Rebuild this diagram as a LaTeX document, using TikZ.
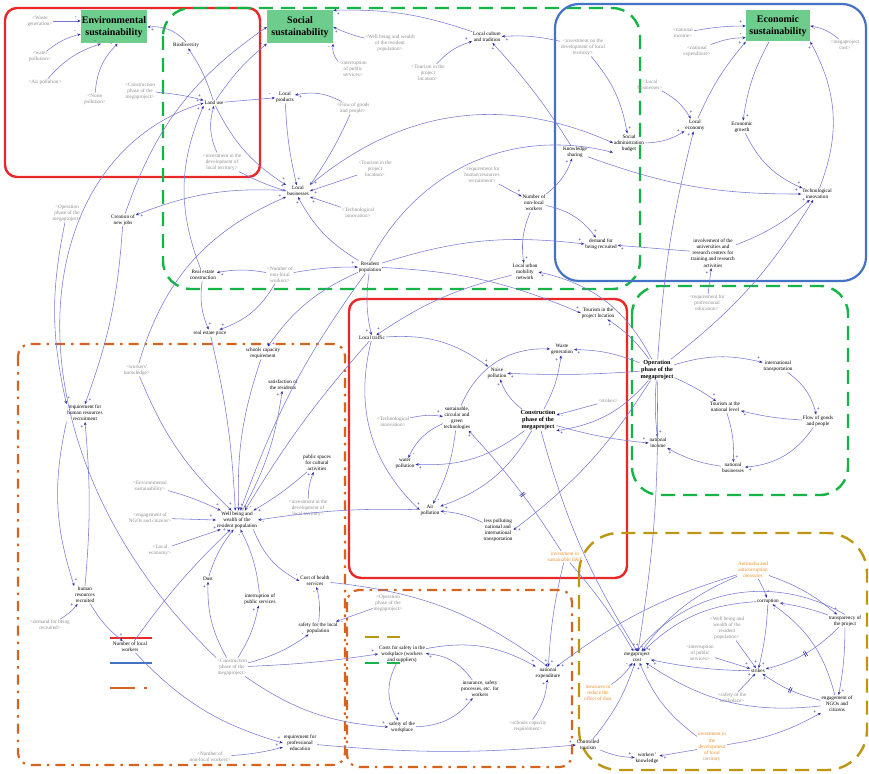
\documentclass[tikz,border=0pt]{standalone}
\usepackage{fontspec}
\setmainfont{Liberation Serif}
\usetikzlibrary{arrows.meta,decorations.markings}

\definecolor{linkblue}{RGB}{120,120,212}
\definecolor{headblue}{RGB}{40,40,165}
\definecolor{shadowgray}{RGB}{140,140,140}
\definecolor{orangetext}{RGB}{240,140,40}
\definecolor{envred}{RGB}{235,40,40}
\definecolor{socgreen}{RGB}{20,180,70}
\definecolor{ecoblue}{RGB}{68,114,196}
\definecolor{ordash}{RGB}{214,100,30}
\definecolor{golddash}{RGB}{190,150,20}
\definecolor{titlegreen}{RGB}{110,205,140}

\newcommand{\cldtext}{\fontsize{5.2}{6.1}\selectfont}
\newcommand{\cldkey}{\fontsize{6.2}{6.8}\selectfont\bfseries}
\newcommand{\cldtitle}{\fontsize{10}{11.5}\selectfont\bfseries}
\newcommand{\cldsignfont}{\fontsize{5}{5}\selectfont\bfseries}

\tikzset{
  signside/.initial=3.5pt,
  other side/.style={signside=-3.5pt},
  v/.style={font=\cldtext, align=center, inner sep=0.8pt, text=black},
  sh/.style={v, text=shadowgray},
  ov/.style={v, text=orangetext},
  key/.style={v, font=\cldkey},
  title/.style={fill=titlegreen, font=\cldtitle, align=center, inner sep=1pt,
                minimum width=66pt, minimum height=33pt},
  polsign/.style={font=\cldsignfont, text=headblue, inner sep=0pt},
  % causal link with its polarity sign beside the arrow head
  lk/.style={draw=linkblue, line width=0.55pt,
             -{Stealth[length=3.3pt,width=2.6pt,color=headblue]},
             postaction={decorate,decoration={markings,
               mark=at position 1 with {\node[polsign] at
                 (-5pt,\pgfkeysvalueof{/tikz/signside}) {#1};}}}},
  lk/.default={+},
  delay/.style={postaction={decorate,decoration={markings,
      mark=at position #1 with {\draw[headblue,line width=0.6pt,-]
        (-0.9pt,-3pt)--(-0.9pt,3pt) (0.9pt,-3pt)--(0.9pt,3pt);}}}},
  envbox/.style={draw=envred, line width=2.4pt, rounded corners=12pt},
  socbox/.style={draw=socgreen, line width=2.4pt, rounded corners=28pt,
                 dash pattern=on 14pt off 8pt},
  ecobox/.style={draw=ecoblue, line width=2.2pt, rounded corners=24pt},
  orbox/.style={draw=ordash, line width=2.2pt, rounded corners=12pt,
                dash pattern=on 10pt off 6pt on 2.5pt off 6pt},
  goldbox/.style={draw=golddash, line width=2.4pt, rounded corners=40pt,
                  dash pattern=on 14pt off 8pt},
}

\begin{document}
\begin{tikzpicture}[x=1pt,y=-1pt]
\useasboundingbox (0,0) rectangle (869,773);

% ---------- sub-system frames ----------
\draw[envbox]  (5,8) rectangle (260,177);
\draw[socbox]  (163,8) rectangle (640,289);
\draw[ecobox]  (555,4) rectangle (866,281);
\draw[envbox]  (349,299) rectangle (627,578);
\draw[socbox]  (632,286) rectangle (848,495);
\draw[orbox]   (18,344) rectangle (345,765);
\draw[orbox]   (347,590) rectangle (572,767);
\draw[goldbox] (579,533) rectangle (867,770);

% ---------- frame key ----------
\draw[draw=envred, line width=2.4pt] (110,638) -- (152,638);
\draw[draw=ecoblue, line width=2.4pt] (110,663) -- (152,663);
\draw[draw=ordash, line width=2.2pt, dash pattern=on 25pt off 9pt on 3pt off 20pt] (110,688) -- (150,688);
\draw[draw=golddash, line width=2.4pt, dash pattern=on 14pt off 8pt] (365,637) -- (400,637);
\draw[draw=socgreen, line width=2.4pt, dash pattern=on 14pt off 8pt] (365,663) -- (400,663);

% ---------- titles ----------
\node[title] (env) at (114,27) {Environmental\\sustainability};
\node[title] (soc) at (300,27) {Social\\sustainability};
\node[title, minimum width=64pt, minimum height=31pt] (eco) at (778,26) {Economic\\sustainability};

% ---------- environmental variables ----------
\node[sh] (wasteS)  at (40,21)  {<Waste\\generation>};
\node[sh] (waterS)  at (40,57)  {<water\\pollution>};
\node[sh] (airS)    at (45,82)  {<Air pollution>};
\node[sh] (noiseS)  at (95,99)  {<Noise\\pollution>};
\node[v]  (biod)    at (186,45) {Biodiversity};
\node[sh] (constrS1) at (140,91) {<Construction\\phase of the\\megaproject>};
\node[v]  (landuse) at (214,103) {Land use};
\node[sh] (investS1) at (222,162) {<investment in the\\development of\\local territory>};
\node[v]  (jobs)    at (123,220) {Creation of\\new jobs};
\node[sh] (operS1)  at (67,213) {<Operation\\phase of the\\megaproject>};

% ---------- social variables ----------
\node[v]  (localprod) at (285,97) {Local\\products};
\node[sh] (wellS1)  at (390,43) {<Well being and wealth\\of the resident\\population>};
\node[sh] (interS1) at (353,69) {<interruption\\of public\\services>};
\node[v]  (culture) at (487,37) {Local culture\\and tradition};
\node[sh] (tourS1)  at (428,73) {<Tourism in the\\project\\location>};
\node[sh] (flowS)   at (353,108) {<Flow of goods\\and people>};
\node[v]  (localbus) at (298,191) {Local\\businesses};
\node[sh] (tourS2)  at (375,169) {<Tourism in the\\project\\location>};
\node[sh] (techS1)  at (358,213) {<Technological\\innovation>};
\node[sh] (reqhrS)  at (482,175) {<requirement for\\human resources\\recruitment>};
\node[v]  (nonlocal) at (534,203) {Number of\\non-local\\workers};
\node[v]  (knowledge) at (575,152) {Knowledge\\sharing};
\node[v]  (resident) at (370,267) {Resident\\population};
\node[v]  (realestate) at (203,275) {Real estate\\construction};
\node[sh] (nonlocalS1) at (280,275) {<Number of\\non-local\\workers>};
\node[v]  (mobility) at (525,272) {Local urban\\mobility\\network};
\node[v]  (demand)  at (601,244) {demand for\\being recruited};

% ---------- economic variables ----------
\node[sh] (investS2) at (583,47) {<investment on the\\development of local\\territory>};
\node[sh] (incomeS) at (683,33) {<national\\income>};
\node[sh] (expendS) at (697,51) {<national\\expenditure>};
\node[sh] (costS)   at (845,45) {<megaproject\\cost>};
\node[sh] (localbusS) at (650,85) {<Local\\businesses>};
\node[v]  (localeco) at (695,125) {Local\\economy};
\node[v]  (growth)  at (742,127) {Economic\\growth};
\node[v]  (socadmin) at (629,143) {Social\\administration\\budget};
\node[v]  (techinnov) at (817,194) {Technological\\innovation};
\node[v]  (involve) at (713,253) {involvement of the\\universities and\\research centers for\\training and research\\activities};

% ---------- construction phase ----------
\node[v]  (tourproj) at (598,313) {Tourism in the\\project location};
\node[v]  (traffic) at (372,338) {Local traffic};
\node[v]  (waste)   at (562,349) {Waste\\generation};
\node[v]  (noise)   at (497,373) {Noise\\pollution};
\node[sh] (strikesS) at (608,401) {<strikes>};
\node[v]  (susttech) at (457,418) {sustainable,\\circular and\\green\\technologies};
\node[sh] (techS2)  at (393,422) {<Technological\\innovation>};
\node[key] (constr) at (538,420) {Construction\\phase of the\\megaproject};
\node[v]  (water)   at (405,464) {water\\pollution};
\node[v]  (air)     at (430,510) {Air\\pollution};
\node[v]  (lesspol) at (498,530) {less polluting\\national and\\international\\transportation};
\node[ov] (investeat) at (565,557) {investment in\\sustainable E\&T};

% ---------- operation phase ----------
\node[sh] (reqprofS) at (707,303) {<requirement for\\professional\\education>};
\node[key] (oper)   at (657,370) {Operation\\phase of the\\megaproject};
\node[v]  (intl)    at (778,366) {international\\transportation};
\node[v]  (tournat) at (725,407) {Tourism at the\\national level};
\node[v]  (flow)    at (818,421) {Flow of goods\\and people};
\node[v]  (income)  at (658,443) {national\\income};
\node[v]  (natbus)  at (733,468) {national\\businesses};

% ---------- residents and workers ----------
\node[v]  (realprice) at (210,333) {real estate price};
\node[v]  (schools) at (263,353) {schools capacity\\requirement};
\node[v]  (satisf)  at (283,385) {satisfaction of\\the residents};
\node[sh] (workknowS) at (137,370) {<workers'\\knowledge>};
\node[v]  (reqhr)   at (85,413) {requirement for\\human resources\\recruitment};
\node[v]  (public)  at (317,463) {public spaces\\for cultural\\activities};
\node[sh] (envS)    at (150,486) {<Environmental\\sustainability>};
\node[sh] (investS3) at (308,508) {<investment in the\\development of\\local territory>};
\node[sh] (ngoS)    at (150,518) {<engagement of\\NGOs and citizens>};
\node[v]  (wellbeing) at (237,520) {Well being and\\wealth of the\\resident population};
\node[sh] (localecoS) at (160,550) {<Local\\economy>};
\node[v]  (hrrec)   at (85,595) {human\\resources\\recruited};
\node[sh] (demandS) at (50,625) {<demand for being\\recruited>};
\node[v]  (dust)    at (208,579) {Dust};
\node[v]  (interrupt) at (260,599) {interruption of\\public services};
\node[v]  (health)  at (315,581) {Cost of health\\services};
\node[v]  (safelocal) at (318,628) {safety for the local\\population};
\node[v]  (nlw)     at (130,647) {Number of local\\workers};
\node[sh] (constrS2) at (232,667) {<Construction\\phase of the\\megaproject>};
\node[v]  (reqprof) at (300,743) {requirement for\\professional\\education};
\node[sh] (nonlocalS2) at (210,757) {<Number of\\non-local workers>};

% ---------- workplace safety ----------
\node[sh] (operS2)  at (388,603) {<Operation\\phase of the\\megaproject>};
\node[v]  (costsafe) at (402,654) {Costs for safety in the\\workplace (workers\\and suppliers)};
\node[v]  (insur)   at (480,689) {insurance, safety\\processes, etc. for\\workers};
\node[v]  (safework) at (402,727) {safety of the\\workplace};
\node[v]  (natexp)  at (548,673) {national\\expenditure};
\node[sh] (schoolsS) at (528,726) {<schools capacity\\requirement>};
\node[v]  (controlled) at (588,745) {Controlled\\tourism};

% ---------- governance ----------
\node[ov] (antimafia) at (753,570) {Antimafia and\\anticorruption\\measures};
\node[v]  (corrupt) at (768,601) {corruption};
\node[v]  (transp)  at (845,621) {transparency of\\the project};
\node[sh] (wellS2)  at (727,628) {<Well being and\\wealth of the\\resident\\population>};
\node[v]  (megacost) at (637,657) {megaproject\\cost};
\node[sh] (interS2) at (700,653) {<interruption\\of public\\services>};
\node[v]  (strikes) at (758,671) {strikes};
\node[sh] (safeworkS) at (732,698) {<safety of the\\workplace>};
\node[ov] (dustmeas) at (598,693) {measures to\\reduce the\\effect of dust};
\node[v]  (engage)  at (837,704) {engagement of\\NGOs and\\citizens};
\node[ov] (investloc) at (712,747) {investment in\\the\\development\\of local\\territory};
\node[v]  (workknow) at (647,758) {workers'\\knowledge};

% ================= causal links =================
% environmental
\draw[lk=-] (wasteS) -- (env.west |- wasteS);
\draw[lk=-] (waterS) to[bend left=12] (env.192);
\draw[lk=-] (airS) to[bend left=15] (env.232);
\draw[lk=-] (noiseS) to[bend left=20] (env.282);
\draw[lk] (biod.north) to[bend right=25] (env.east);
\draw[lk=-] (landuse) to[bend right=8] (biod);
\draw[lk] (constrS1) to[bend left=5] (landuse);
\draw[lk] (investS1) to[bend left=20] (landuse.south);
\draw[lk=-] (landuse) -- (localprod);
\draw[lk] (landuse) to[bend left=8] (soc.south west);
\draw[lk] (landuse) to[bend right=15] (localbus.north west);
\draw[lk] (investS1) to[bend right=5] (localbus.west);
\draw[lk] (jobs) to[bend left=18] (soc.west);
\draw[lk] (realestate) to[bend left=22] (landuse.south west);
\draw[lk] (localbus) to[bend right=12] (jobs);
\draw[lk] (operS1) to[bend right=12] (reqhr.north west);
\draw[lk] (jobs) to[bend left=8] (reqhr.north);
\draw[lk] (constrS2.north west) .. controls (0,450) and (20,160) .. (landuse.west);
\draw[lk] (workknowS) to[bend left=25] (localbus.south west);

% social
\draw[lk] (wellS1) to[bend left=5] (soc.east);
\draw[lk=-] (interS1) to[bend left=25] (soc.south east);
\draw[lk] (culture) to[bend right=10] (soc.north east);
\draw[lk] (tourS1) to[bend left=15] (culture);
\draw[lk] (knowledge) to[bend right=5] (culture);
\draw[lk] (investS2) to[bend right=8] (culture);
\draw[lk] (investS2) to[bend left=15] (socadmin);
\draw[lk] (flowS) to[bend right=20] (localprod);
\draw[lk] (flowS) to[bend left=5] (localbus.north east);
\draw[lk] (localprod) to[bend right=5] (localbus);
\draw[lk] (tourS2) -- (localbus.east);
\draw[lk] (techS1) -- (localbus.south east);
\draw[lk] (resident) to[bend left=15] (localbus.south);
\draw[lk] (localbus.north east) to[bend left=32] (socadmin.west);
\draw[lk] (resident.north) to[bend left=38] (socadmin.south west);
\draw[lk] (knowledge) to[bend right=10] (techinnov.west);
\draw[lk] (reqhrS) -- (nonlocal);
\draw[lk] (nonlocal) to[bend right=15] (knowledge);
\draw[lk] (nonlocal) to[bend left=20] (demand);
\draw[lk] (nonlocal) to[bend right=15] (mobility);
\draw[lk] (resident) to[bend left=12] (demand.west);
\draw[lk] (involve) -- (demand);
\draw[lk] (involve) to[bend right=10] (techinnov);
\draw[lk] (reqprofS) -- (involve);
\draw[lk] (nonlocalS1) to[bend left=5] (resident);
\draw[lk] (nonlocalS1) to[bend right=10] (realestate);
\draw[lk,other side] (nonlocalS1) to[bend left=20] (realprice);
\draw[lk] (realestate) to[bend right=15] (realprice);
\draw[lk,other side] (resident) to[bend right=10] (traffic);
\draw[lk] (resident) to[bend right=15] (schools);
\draw[lk] (resident) to[bend left=10] (tourproj.west);
\draw[lk,other side] (mobility) to[bend right=10] (traffic);
\draw[lk] (oper) to[bend right=25] (mobility.east);

% economic
\draw[lk] (incomeS) to[bend left=5] (eco.west);
\draw[lk=-] (expendS) to[bend left=10] (eco.200);
\draw[lk=-] (costS) to[bend right=15] (eco.east);
\draw[lk] (localbusS) to[bend left=15] (localeco);
\draw[lk] (socadmin) to[bend right=15] (localeco);
\draw[lk] (localeco) to[bend left=8] (eco.south west);
\draw[lk] (eco) to[bend right=10] (growth);
\draw[lk] (growth) to[bend right=20] (techinnov);
\draw[lk] (techinnov) to[bend right=25] (eco.south east);
\draw[lk] (oper) to[bend left=5] (localeco);
\draw[lk] (oper) to[bend right=10] (techinnov);

% construction and operation phases
\draw[lk] (traffic) to[bend left=20] (noise);
\draw[lk] (traffic) to[bend right=30] (air.west);
\draw[lk] (constr) to[bend left=15] (noise);
\draw[lk] (constr) to[bend right=10] (waste);
\draw[lk] (constr) to[bend left=20] (water);
\draw[lk] (constr) to[bend left=20] (air);
\draw[lk] (constr) to[bend right=8] (megacost.north);
\draw[lk] (constr) to[bend right=5] (income.west);
\draw[lk=-] (lesspol) to[bend right=10] (air);
\draw[lk] (oper) to[bend left=10] (lesspol.east);
\draw[lk=-] (susttech) to[bend left=35] (waste.west);
\draw[lk=-] (susttech) to[bend right=20] (water);
\draw[lk=-] (susttech) to[bend left=10] (air);
\draw[lk] (techS2) to[bend left=10] (susttech);
\draw[lk=-] (strikesS) -- (constr);
\draw[lk] (oper) to[bend right=10] (waste);
\draw[lk] (oper) to[bend left=3] (noise);
\draw[lk] (oper) to[bend left=20] (constr.south east);
\draw[lk,delay=0.45] (investeat) to[bend right=5] (susttech);
\draw[lk] (investeat) to[bend left=5] (megacost);
\draw[lk] (investeat) to[bend right=5] (natexp);
\draw[lk] (oper) to[bend right=10] (tourproj);
\draw[lk] (oper) to[bend left=15] (intl);
\draw[lk] (oper) to[bend left=5] (tournat);
\draw[lk] (oper) to[bend right=5] (income);
\draw[lk] (oper) to[bend left=5] (megacost);
\draw[lk] (intl) to[bend left=20] (flow);
\draw[lk] (flow) to[bend left=5] (tournat);
\draw[lk] (flow) to[bend left=25] (natbus);
\draw[lk] (tournat) to[bend left=10] (natbus);
\draw[lk] (natbus) to[bend left=10] (income);

% well being of residents
\draw[lk=-] (realprice) to[bend left=5] (wellbeing.100);
\draw[lk] (schools) to[bend right=10] (wellbeing.80);
\draw[lk] (wellbeing.60) to[bend right=10] (satisf);
\draw[lk] (workknowS) to[bend right=12] (wellbeing.120);
\draw[lk=-] (traffic) to[bend right=5] (wellbeing.50);
\draw[lk] (resident) to[bend right=8] (wellbeing.70);
\draw[lk] (public) to[bend left=5] (wellbeing.30);
\draw[lk] (investS3) to[bend left=10] (public);
\draw[lk] (envS) to[bend left=5] (wellbeing.150);
\draw[lk] (ngoS) -- (wellbeing.west);
\draw[lk] (localecoS) -- (wellbeing.210);
\draw[lk=-] (air) to[bend right=5] (wellbeing.east);
\draw[lk=-] (wellbeing.330) to[bend right=20] (health.west);
\draw[lk=-] (dust) to[bend left=10] (wellbeing.250);
\draw[lk=-] (interrupt) to[bend right=10] (wellbeing.290);
\draw[lk] (nlw) to[bend left=5] (wellbeing.235);
\draw[lk] (hrrec) to[bend right=10] (nlw);
\draw[lk] (demandS) to[bend right=10] (hrrec);
\draw[lk] (reqhr.south west) to[bend right=15] (hrrec.north west);
\draw[lk] (hrrec.north) to[bend right=5] (reqhr.south);
\draw[lk] (constrS2) to[bend left=15] (dust);
\draw[lk] (constrS2) to[bend right=10] (interrupt);
\draw[lk=-] (constrS2) to[bend right=10] (safelocal);
\draw[lk] (constrS2) to[bend right=3] (costsafe.west);
\draw[lk] (constrS2) to[bend right=15] (safework.west);
\draw[lk] (nlw) to[bend right=15] (reqprof.west);
\draw[lk] (nonlocalS2) to[bend right=5] (reqprof);
\draw[lk] (reqprof) to[bend right=5] (controlled.west);
\draw[lk=-] (safelocal) to[bend right=10] (health);
\draw[lk=-] (operS2) -- (safelocal);

% workplace safety
\draw[lk] (health) to[bend left=15] (natexp.north);
\draw[lk] (costsafe) to[bend left=20] (natexp);
\draw[lk] (costsafe) to[bend right=30] (safework);
\draw[lk] (safework) to[bend right=25] (insur);
\draw[lk] (insur) to[bend right=25] (costsafe);
\draw[lk] (schoolsS) to[bend right=15] (natexp);

% governance
\draw[lk=-] (antimafia) to[bend left=5] (corrupt);
\draw[lk] (antimafia) to[bend right=15] (megacost);
\draw[lk] (antimafia) to[bend left=10] (transp);
\draw[lk] (antimafia) to[bend right=10] (natexp);
\draw[lk=-] (transp) to[bend right=5] (corrupt);
\draw[lk=-,delay=0.5] (transp) to[bend left=15] (strikes);
\draw[lk] (transp) to[bend left=5] (engage);
\draw[lk=-] (engage) to[bend right=20] (corrupt);
\draw[lk,delay=0.5] (engage) to[bend left=10] (strikes);
\draw[lk] (engage) to[bend left=20] (megacost);
\draw[lk] (corrupt) to[bend right=20] (megacost);
\draw[lk] (corrupt) to[bend left=5] (strikes);
\draw[lk] (wellS2) -- (strikes);
\draw[lk] (interS2) -- (strikes);
\draw[lk] (safeworkS) -- (strikes);
\draw[lk] (strikes) to[bend left=5] (megacost);
\draw[lk=-] (transp.north) to[bend right=40] (megacost.north);
\draw[lk=-] (dustmeas) to[bend right=10] (megacost);
\draw[lk] (controlled) to[bend right=10] (megacost);
\draw[lk] (controlled) to[bend right=10] (workknow);
\draw[lk] (investloc) to[bend left=15] (megacost);
\draw[lk] (investloc) -- (workknow);
\draw[lk] (investloc) to[bend right=10] (engage);

\end{tikzpicture}
\end{document}
